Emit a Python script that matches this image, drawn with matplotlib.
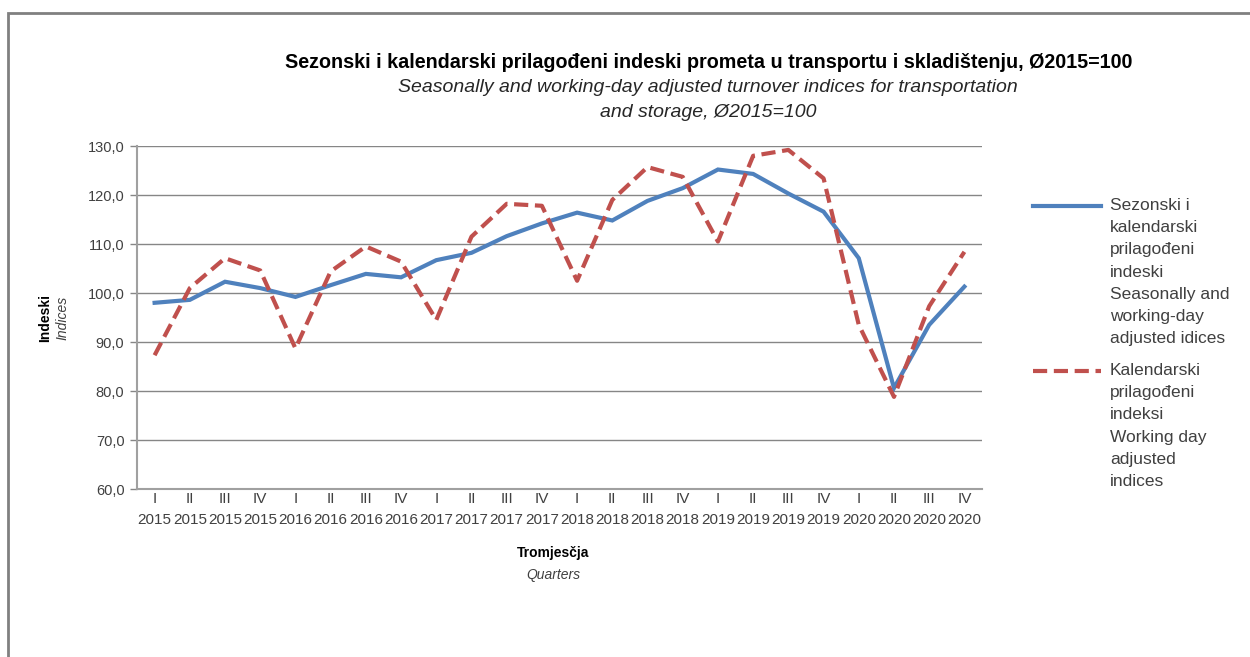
import numpy as np
import matplotlib
matplotlib.use("Agg")
import matplotlib.pyplot as plt
from matplotlib.lines import Line2D
from matplotlib.patches import Rectangle

plt.rcParams['font.family'] = ['Liberation Sans', 'DejaVu Sans']

# data
quarters = ["I", "II", "III", "IV"]
years = ["2015", "2016", "2017", "2018", "2019", "2020"]
labels = [q + "\n" + y for y in years for q in quarters]

seasonal = [98.0, 98.6, 102.3, 101.0, 99.2, 101.6, 103.9, 103.2,
            106.7, 108.2, 111.6, 114.2, 116.4, 114.8, 118.8, 121.4,
            125.2, 124.3, 120.3, 116.6, 107.1, 80.6, 93.5, 101.3]
working_day = [87.3, 101.0, 107.1, 104.6, 88.7, 104.4, 109.5, 106.4,
               94.5, 111.5, 118.2, 117.8, 102.5, 119.0, 125.7, 123.7,
               110.5, 128.0, 129.2, 123.4, 93.5, 78.8, 97.3, 108.4]

leg1 = "Sezonski i\nkalendarski\nprilagođeni\nindeski\nSeasonally and\nworking-day\nadjusted idices"
leg2 = "Kalendarski\nprilagođeni\nindeksi\nWorking day\nadjusted\nindices"

W, H = 1250, 657
blue = "#4F81BD"
red = "#C0504D"
grid_c = "#868686"

def fx(px):
    return px / W

def fy(py):
    return 1 - py / H

fig = plt.figure(figsize=(12.5, 6.57), dpi=100)
ax = fig.add_axes([fx(137), fy(489), fx(982) - fx(137), fy(146) - fy(489)])

x = np.arange(len(labels))
ax.plot(x, seasonal, color=blue, lw=3, solid_joinstyle='miter')
ax.plot(x, working_day, color=red, lw=3, linestyle=(0, (3.4, 1.6)))

ax.set_xlim(-0.5, len(labels) - 0.5)
ax.set_ylim(60, 130)
ax.set_yticks(np.arange(60, 131, 10))
ax.set_yticklabels([f"{v:.1f}".replace(".", ",") for v in range(60, 131, 10)],
                   fontsize=10.5, color="#404040")
ax.set_xticks(x)
ax.set_xticklabels(labels, fontsize=11, color="#404040", linespacing=1.65)
ax.tick_params(axis='x', length=0, pad=2)
ax.tick_params(axis='y', length=5, color=grid_c, width=1, pad=4)
ax.grid(axis='y', color=grid_c, lw=1)
ax.set_axisbelow(True)
for s in ['top', 'right']:
    ax.spines[s].set_visible(False)
ax.spines['left'].set_color("#A0A0A0")
ax.spines['left'].set_linewidth(1.5)
ax.spines['bottom'].set_color("#A0A0A0")
ax.spines['bottom'].set_linewidth(1.5)

# titles
fig.text(fx(709), fy(62), "Sezonski i kalendarski prilagođeni indeski prometa u transportu i skladištenju, Ø2015=100",
         ha='center', va='center', fontsize=14.2, fontweight='bold')
fig.text(fx(708), fy(100), "Seasonally and working-day adjusted turnover indices for transportation\nand storage, Ø2015=100",
         ha='center', va='center', fontsize=14, style='italic', color="#262626", linespacing=1.6)

fig.text(fx(45), fy(318), "Indeski", rotation=90, ha='center', va='center', fontsize=10, fontweight='bold')
fig.text(fx(62), fy(318), "Indices", rotation=90, ha='center', va='center', fontsize=10, style='italic', color="#404040")
fig.text(fx(553), fy(553), "Tromjesčja", ha='center', va='center', fontsize=10, fontweight='bold')
fig.text(fx(553), fy(575), "Quarters", ha='center', va='center', fontsize=10, style='italic', color="#404040")

# legend
fig.add_artist(Line2D([fx(1033), fx(1101)], [fy(206), fy(206)], color=blue, lw=3))
fig.add_artist(Line2D([fx(1033), fx(1101)], [fy(371), fy(371)], color=red, lw=3,
                      linestyle=(0, (3.4, 1.6))))
fig.text(fx(1110), fy(198), leg1, ha='left', va='top', fontsize=12.5, color="#404040", linespacing=1.6)
fig.text(fx(1110), fy(363), leg2, ha='left', va='top', fontsize=12.5, color="#404040", linespacing=1.6)

# outer frame
fig.add_artist(Rectangle((fx(8), fy(700)), fx(1300), fy(13) - fy(700), fill=False,
                         edgecolor="#808080", lw=2, transform=fig.transFigure))

fig.savefig("out.png", dpi=100)
